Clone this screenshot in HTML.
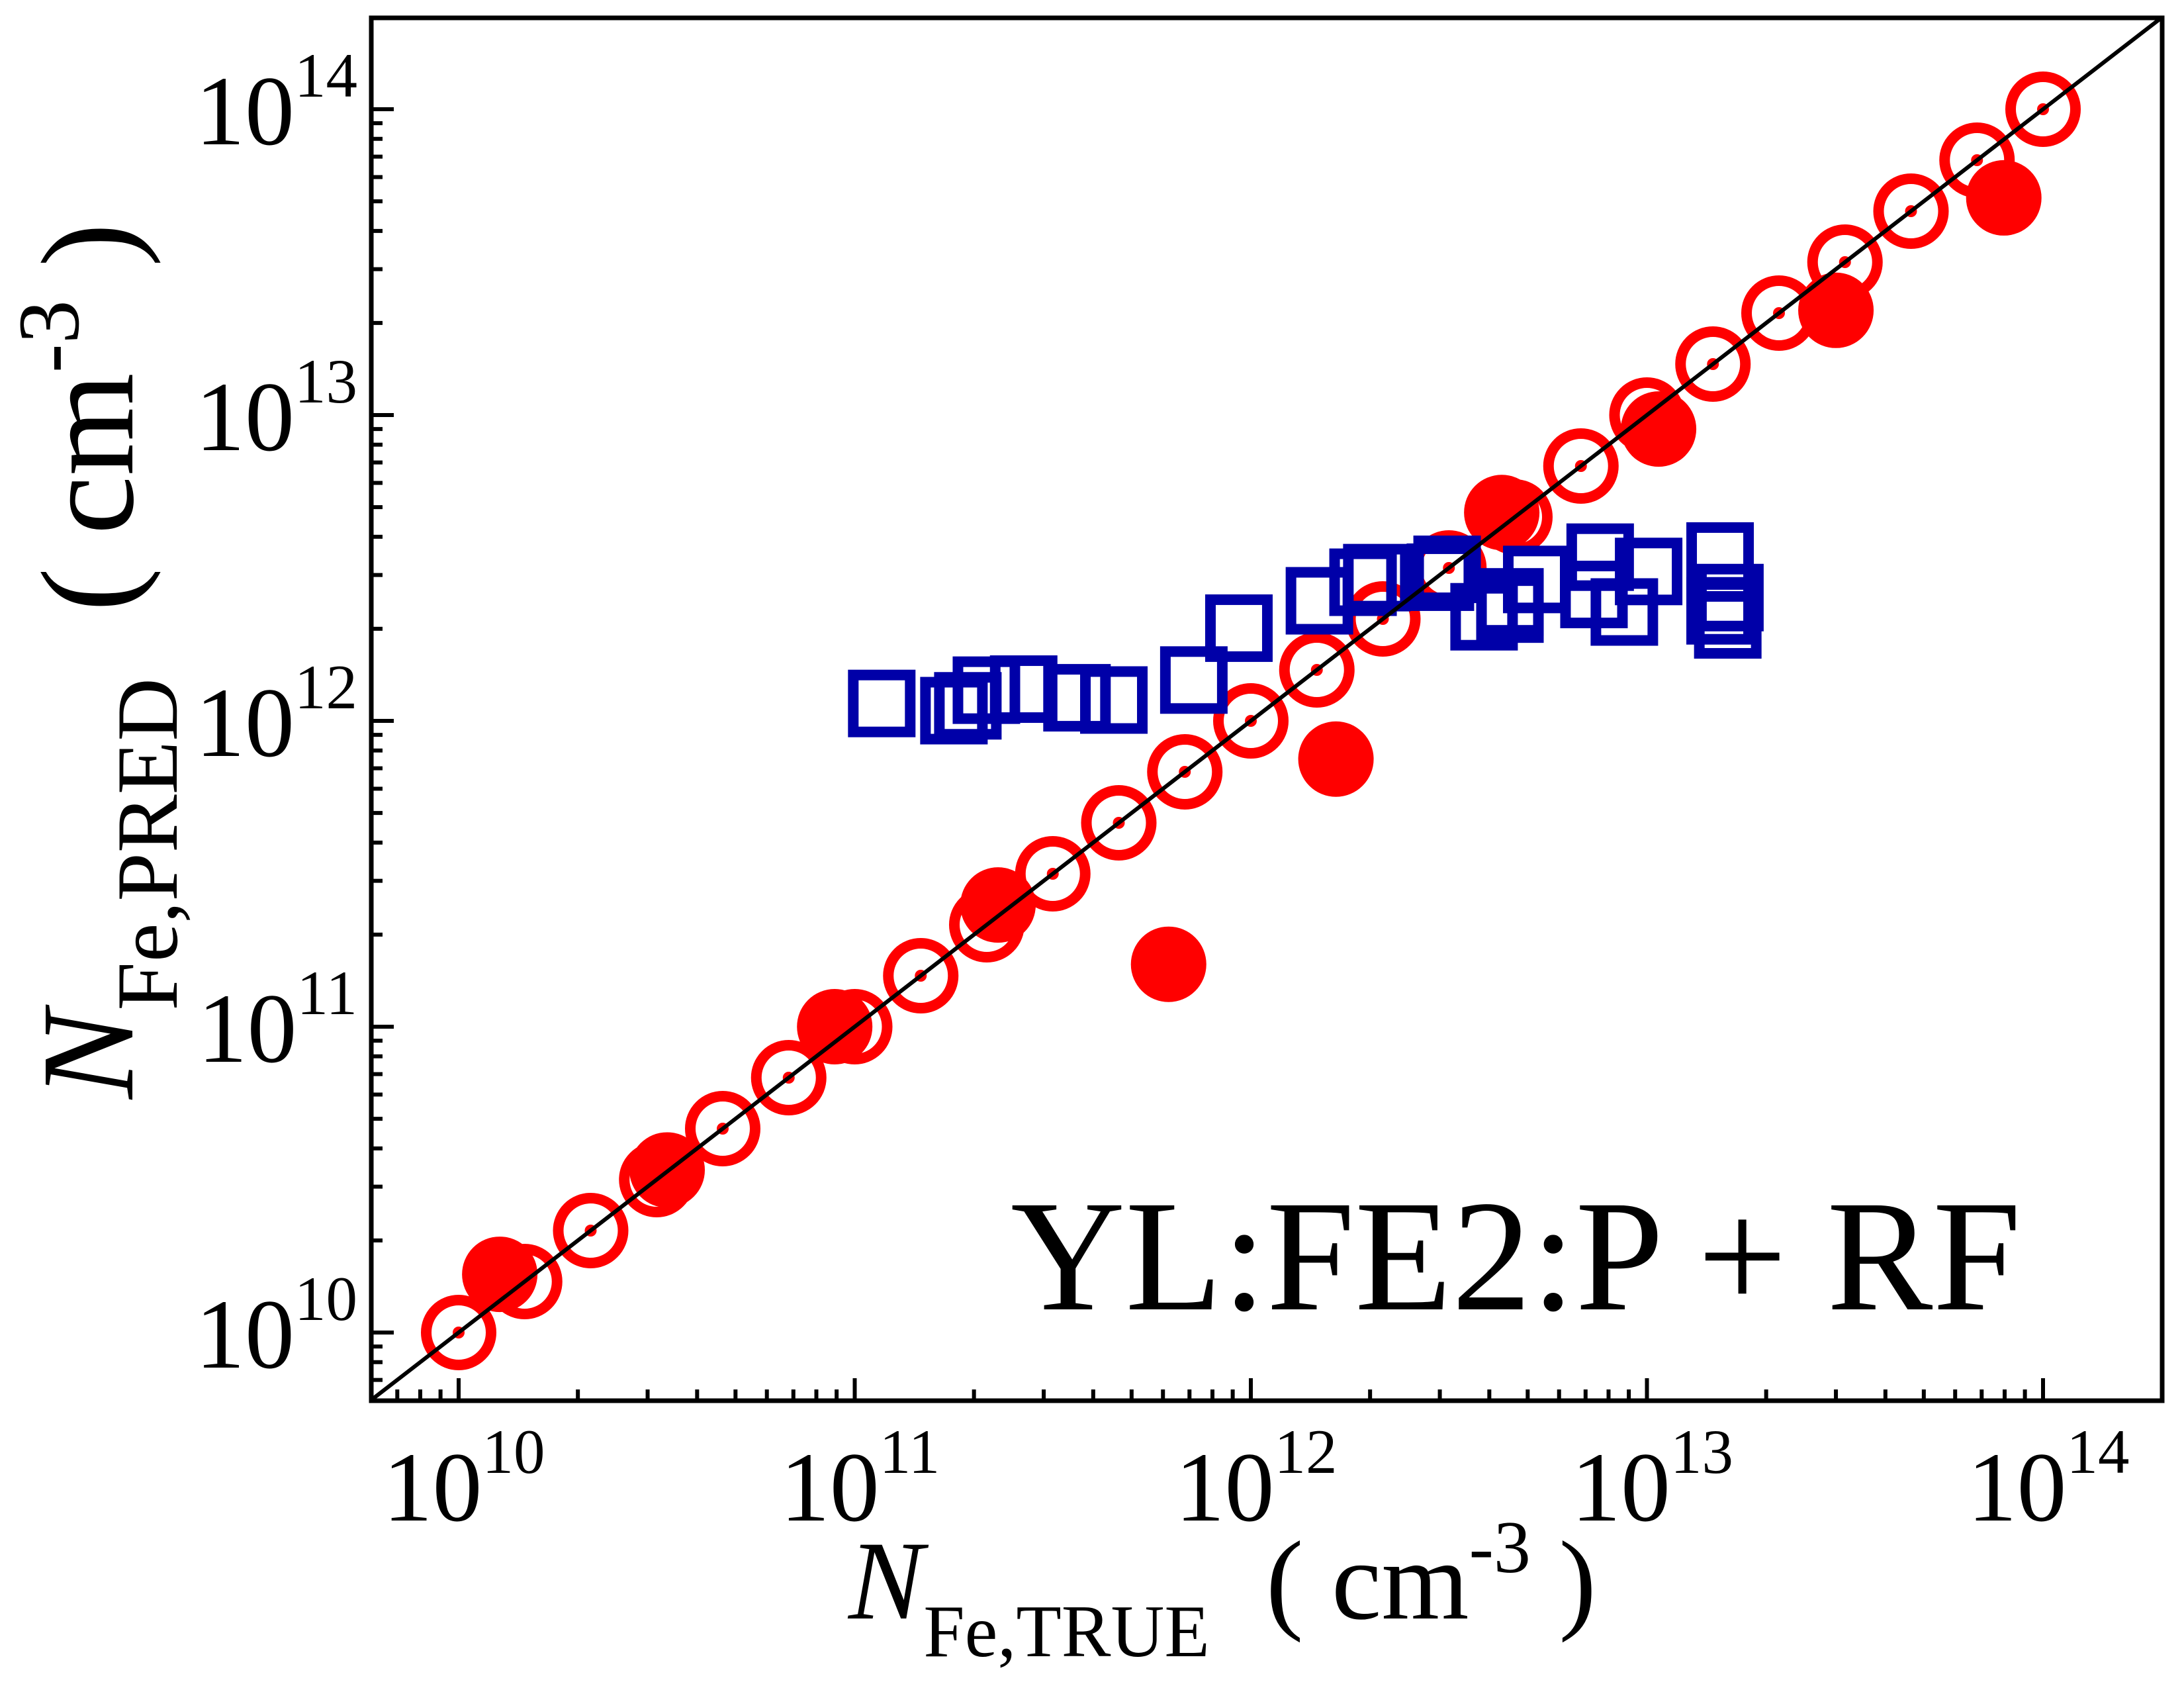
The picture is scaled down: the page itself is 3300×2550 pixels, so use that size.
<!DOCTYPE html>
<html><head><meta charset="utf-8"><style>
html,body{margin:0;padding:0;background:#fff}
svg{display:block}
svg text{font-family:"Liberation Serif","Times New Roman",serif}
</style></head><body>
<svg id="chart" width="3300" height="2550" viewBox="0 0 3300 2550" xmlns="http://www.w3.org/2000/svg" font-family="Liberation Serif, Times New Roman, serif">
<rect width="3300" height="2550" fill="#fff"/>
<g id="marks"></g>
<g id="axes"></g>
<text x="1527" y="1978" font-size="240">YL:FE2:P + RF</text>
<text x="1282" y="2445" font-size="170"><tspan font-style="italic">N</tspan><tspan font-size="112" dy="57">Fe,TRUE</tspan><tspan dy="-57" xml:space="preserve">  ( cm</tspan><tspan font-size="112" dy="-70">-3</tspan><tspan dy="70" xml:space="preserve"> )</tspan></text>
<text transform="translate(200,1660) rotate(-90)" font-size="200"><tspan font-style="italic">N</tspan><tspan font-size="132" dy="67">Fe,PRED</tspan><tspan dy="-67" xml:space="preserve">  ( cm</tspan><tspan font-size="132" dy="-82">-3</tspan><tspan dy="82" xml:space="preserve"> )</tspan></text>
</svg>
<script>
const openTrue = [];
for (let k = 0; k <= 24; k++) openTrue.push(Math.pow(10, 10 + k / 6));
const openPred = openTrue.slice();
const filledTrue = [1.27e10,3.36e10,8.9e10,2.3e11,6.2e11,1.64e12,4.3e12,1.07e13,3.0e13,7.96e13];
const filledPred = [1.55e10,3.4e10,1.0e11,2.5e11,1.6e11,7.5e11,4.8e12,9.0e12,2.2e13,5.13e13];
const squareTrue = [1.17e11,1.78e11,1.93e11,2.15e11,2.67e11,3.64e11,4.51e11,7.18e11,9.33e11,1.49e12,1.92e12,2.08e12,3.01e12,3.13e12,3.88e12,4.51e12,4.51e12,5.27e12,7.62e12,7.35e12,8.77e12,1.01e13,1.53e13,1.53e13,1.62e13,1.60e13];
const squarePred = [1.14e12,1.08e12,1.12e12,1.26e12,1.27e12,1.19e12,1.17e12,1.36e12,2.01e12,2.47e12,2.84e12,2.94e12,2.95e12,3.13e12,2.19e12,2.32e12,2.45e12,2.90e12,3.43e12,2.59e12,2.27e12,3.08e12,3.46e12,2.29e12,2.53e12,2.06e12];
const xTickExps = [10,11,12,13,14];
const yTickExps = [10,11,12,13,14];

const NS = "http://www.w3.org/2000/svg";
const L = 561, R = 3267, T = 27, B = 2116;
function xs(v){ return 693 + (Math.log10(v) - 10) * 598.5; }
function ys(v){ return 2013 - (Math.log10(v) - 10) * 462; }
function el(tag, attrs, parent){ const e = document.createElementNS(NS, tag); for (const k in attrs) e.setAttribute(k, attrs[k]); parent.appendChild(e); return e; }
const marks = document.getElementById('marks');
const axes = document.getElementById('axes');

openTrue.forEach((v, i) => {
  const c = el('circle', {cx: xs(v), cy: ys(openPred[i]), r: 49, fill: 'none', stroke: '#ff0000', 'stroke-width': 16}, marks);
  
  
  const d = el('circle', {cx: xs(v), cy: ys(openPred[i]), r: 9, fill: '#ff0000'}, marks);
  
  
});
filledTrue.forEach((v, i) => {
  const c = el('circle', {cx: xs(v), cy: ys(filledPred[i]), r: 57, fill: '#ff0000'}, marks);
  
  
});
squareTrue.forEach((v, i) => {
  const s = el('rect', {x: xs(v) - 43, y: ys(squarePred[i]) - 43, width: 86, height: 86, fill: 'none', stroke: '#0000a8', 'stroke-width': 16}, marks);
  
  
});
const lo = Math.pow(10, 10 + (L - 693) / 598.5), hi = Math.pow(10, 10 + (R - 693) / 598.5);
const ln = el('line', {x1: xs(lo), y1: ys(lo), x2: xs(hi), y2: ys(hi), stroke: '#000', 'stroke-width': 6}, marks);



const fr = el('rect', {x: L, y: T, width: R - L, height: B - T, fill: 'none', stroke: '#000', 'stroke-width': 7}, axes);



for (let e = 9; e <= 14; e++) {
  for (let m = 1; m <= 9; m++) {
    const v = m * Math.pow(10, e); const x = xs(v);
    if (x < L || x > R) continue;
    const len = m === 1 ? 34 : 17;
    const t = el('line', {x1: x, y1: B, x2: x, y2: B - len, stroke: '#000', 'stroke-width': 6}, axes);
    
    
  }
}
for (let e = 9; e <= 14; e++) {
  for (let m = 1; m <= 9; m++) {
    const v = m * Math.pow(10, e); const y = ys(v);
    if (y < T || y > B) continue;
    const len = m === 1 ? 34 : 17;
    const t = el('line', {x1: L, y1: y, x2: L + len, y2: y, stroke: '#000', 'stroke-width': 6}, axes);
    
    
  }
}
xTickExps.forEach(e => {
  const tx = el('text', {x: xs(Math.pow(10, e)) + 8, y: 2297, 'font-size': 150, 'text-anchor': 'middle'}, axes);
  
  
  tx.innerHTML = '10<tspan font-size="95" dy="-72">' + e + '</tspan>';
});
yTickExps.forEach(e => {
  const tx = el('text', {x: 540, y: ys(Math.pow(10, e)) + 53, 'font-size': 150, 'text-anchor': 'end'}, axes);
  
  
  tx.innerHTML = '10<tspan font-size="95" dy="-72">' + e + '</tspan>';
});
</script>
</body></html>
